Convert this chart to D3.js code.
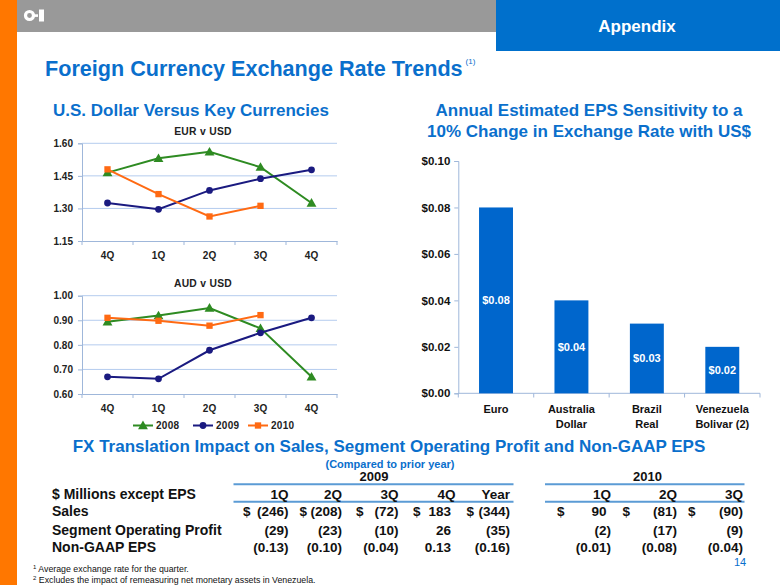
<!DOCTYPE html>
<html><head><meta charset="utf-8">
<script src="https://cdn.jsdelivr.net/npm/d3@7"></script>
<style>
html,body{margin:0;padding:0;background:#fff;}
svg{display:block;font-family:"Liberation Sans",Arial,Helvetica,sans-serif;}
</style></head>
<body>
<svg id="c" width="780" height="585"></svg>
<script>
// ---------- DATA ----------
const quarterLabels = ["4Q","1Q","2Q","3Q","4Q"];
const seriesNames = ["2008","2009","2010"];
const eur2008 = [1.465,1.531,1.561,1.490,1.325];
const eur2009 = [1.325,1.296,1.383,1.437,1.478];
const eur2010 = [1.480,1.366,1.263,1.312];
const eurTicks = [1.15,1.30,1.45,1.60];
const aud2008 = [0.894,0.919,0.950,0.867,0.670];
const aud2009 = [0.670,0.662,0.778,0.849,0.910];
const aud2010 = [0.910,0.898,0.878,0.921];
const audTicks = [0.60,0.70,0.80,0.90,1.00];

const currencies = [["Euro"],["Australia","Dollar"],["Brazil","Real"],["Venezuela","Bolivar (2)"]];
const epsSensitivity = [0.08,0.04,0.03,0.02];
const epsTicks = [0,0.02,0.04,0.06,0.08,0.10];

const rowLabels = ["Sales","Segment Operating Profit","Non-GAAP EPS"];
const cols2009 = ["1Q","2Q","3Q","4Q","Year"];
const sales2009 = [-246,-208,-72,183,-344];
const sop2009 = [-29,-23,-10,26,-35];
const eps2009 = [-0.13,-0.10,-0.04,0.13,-0.16];
const cols2010 = ["1Q","2Q","3Q"];
const sales2010 = [90,-81,-90];
const sop2010 = [-2,-17,-9];
const eps2010 = [-0.01,-0.08,-0.04];

// ---------- STYLE ----------
const BLUE = "#0A6FCC";
const GREEN = "#2E8B22", NAVY = "#1A1A80", ORANGE = "#FF6A13";
const GRID = "#B4CCEE", AXIS = "#9FB7DA";
const svg = d3.select("#c");

// ---------- HEADER ----------
svg.append("rect").attr("x",0).attr("y",0).attr("width",17).attr("height",585).attr("fill","#FF7700");
svg.append("rect").attr("x",17).attr("y",0).attr("width",479).attr("height",32).attr("fill","#999999");
svg.append("rect").attr("x",496).attr("y",0).attr("width",284).attr("height",51).attr("fill","#0070CC");
// logo
svg.append("circle").attr("cx",29.5).attr("cy",15.5).attr("r",4).attr("fill","none").attr("stroke","#fff").attr("stroke-width",3.2);
svg.append("rect").attr("x",34).attr("y",14.3).attr("width",4).attr("height",2.6).attr("fill","#fff");
svg.append("rect").attr("x",39).attr("y",9.5).attr("width",5).attr("height",12).attr("fill","#fff");
svg.append("text").attr("x",637).attr("y",32).attr("text-anchor","middle").attr("fill","#fff")
  .attr("font-size",17).attr("font-weight","bold").text("Appendix");

const mainTitle = svg.append("text").attr("x",45).attr("y",76).attr("fill",BLUE).attr("font-size",21.6).attr("font-weight","bold")
  .text("Foreign Currency Exchange Rate Trends");
const tw = mainTitle.node().getComputedTextLength();
svg.append("text").attr("x",45+tw+3).attr("y",64).attr("fill",BLUE).attr("font-size",8).text("(1)");

svg.append("text").attr("x",53).attr("y",116).attr("fill",BLUE).attr("font-size",17).attr("font-weight","bold")
  .text("U.S. Dollar Versus Key Currencies");
svg.append("text").attr("x",589).attr("y",116).attr("text-anchor","middle").attr("fill",BLUE).attr("font-size",17).attr("font-weight","bold")
  .text("Annual Estimated EPS Sensitivity to a");
svg.append("text").attr("x",589).attr("y",137).attr("text-anchor","middle").attr("fill",BLUE).attr("font-size",17).attr("font-weight","bold")
  .text("10% Change in Exchange Rate with US$");

// ---------- LINE CHARTS ----------
function lineChart(opt){
  const g = svg.append("g");
  const x = d3.scaleBand().domain(d3.range(quarterLabels.length)).range([82,337]);
  const y = d3.scaleLinear().domain(opt.domain).range(opt.range);
  g.append("g").selectAll("line").data(opt.ticks.slice(1)).join("line")
    .attr("x1",82).attr("x2",337).attr("y1",d=>y(d)).attr("y2",d=>y(d))
    .attr("stroke",GRID).attr("stroke-width",1);
  const ya = g.append("g").attr("transform","translate(82,0)")
    .call(d3.axisLeft(y).tickValues(opt.ticks).tickSize(4).tickPadding(5).tickFormat(d3.format(".2f")));
  ya.select(".domain").attr("stroke",AXIS);
  ya.selectAll(".tick line").attr("stroke",AXIS);
  ya.selectAll("text").attr("font-size",10).attr("font-weight","bold").attr("fill","#222").attr("font-family",null);
  const xa = g.append("g").attr("transform",`translate(0,${opt.range[0]})`)
    .call(d3.axisBottom(x).tickSize(0).tickPadding(11).tickFormat(i=>quarterLabels[i]));
  xa.select(".domain").attr("stroke",AXIS);
  xa.selectAll("text").attr("font-size",10).attr("font-weight","bold").attr("fill","#222").attr("font-family",null);
  g.append("g").selectAll("line").data(d3.range(quarterLabels.length+1)).join("line")
    .attr("x1",i=>82+i*x.step()).attr("x2",i=>82+i*x.step())
    .attr("y1",opt.range[0]).attr("y2",opt.range[0]+4).attr("stroke",AXIS);
  g.append("text").attr("x",203).attr("y",opt.titleY).attr("text-anchor","middle")
    .attr("font-size",10.3).attr("font-weight","bold").attr("letter-spacing",0.3).attr("fill","#222").text(opt.title);
  const cx = i=>x(i)+x.bandwidth()/2;
  const series = [
    {vals:opt.s2008,color:GREEN,shape:"tri"},
    {vals:opt.s2009,color:NAVY,shape:"circ"},
    {vals:opt.s2010,color:ORANGE,shape:"sq"}];
  series.forEach(s=>{
    g.append("path").datum(s.vals).attr("fill","none").attr("stroke",s.color).attr("stroke-width",2)
      .attr("d",d3.line().x((d,i)=>cx(i)).y(d=>y(d)));
    drawMarkers(g, s.vals.map((d,i)=>[cx(i),y(d)]), s.shape, s.color);
  });
}
function drawMarkers(g, pts, shape, color){
  const sym = shape==="tri"? d3.symbolTriangle : shape==="circ"? d3.symbolCircle : d3.symbolSquare;
  const size = shape==="tri"? 42 : shape==="circ"? 36 : 40;
  g.append("g").selectAll("path").data(pts).join("path")
    .attr("transform",d=>`translate(${d[0]},${d[1]+(shape==="tri"?0.8:0)})`)
    .attr("d",d3.symbol().type(sym).size(size)).attr("fill",color);
}
lineChart({title:"EUR v USD",titleY:134.5,domain:[1.15,1.60],range:[241,143.3],ticks:eurTicks,
  s2008:eur2008,s2009:eur2009,s2010:eur2010});
lineChart({title:"AUD v USD",titleY:287,domain:[0.60,1.00],range:[394,295.7],ticks:audTicks,
  s2008:aud2008,s2009:aud2009,s2010:aud2010});

const legColors = [GREEN,NAVY,ORANGE], legShapes=["tri","circ","sq"], legX=[133,193,248];
seriesNames.forEach((n,i)=>{
  const lg = svg.append("g");
  lg.append("line").attr("x1",legX[i]).attr("x2",legX[i]+20).attr("y1",425.5).attr("y2",425.5)
    .attr("stroke",legColors[i]).attr("stroke-width",2);
  drawMarkers(lg,[[legX[i]+10,425.5]],legShapes[i],legColors[i]);
  lg.append("text").attr("x",legX[i]+23).attr("y",429).attr("font-size",10).attr("font-weight","bold")
    .attr("letter-spacing",0.3).attr("fill","#222").text(n);
});

// ---------- BAR CHART ----------
{
  const g = svg.append("g");
  const x = d3.scaleBand().domain(d3.range(currencies.length)).range([458.3,760]).paddingInner(0.55).paddingOuter(0.275);
  const y = d3.scaleLinear().domain([0,0.10]).range([393.3,161]);
  const ya = g.append("g").attr("transform","translate(458.3,0)")
    .call(d3.axisLeft(y).tickValues(epsTicks).tickSize(4).tickPadding(4).tickFormat(d=>"$"+d3.format(".2f")(d)));
  ya.select(".domain").attr("stroke",AXIS);
  ya.selectAll(".tick line").attr("stroke",AXIS);
  ya.selectAll("text").attr("font-size",11.5).attr("font-weight","bold").attr("fill","#111").attr("font-family",null);
  g.append("line").attr("x1",458.3).attr("x2",760).attr("y1",393.3).attr("y2",393.3).attr("stroke",AXIS);
  const step = (760-458.3)/currencies.length;
  g.append("g").selectAll("line").data(d3.range(currencies.length+1)).join("line")
    .attr("x1",i=>458.3+i*step).attr("x2",i=>458.3+i*step).attr("y1",393.3).attr("y2",397.5).attr("stroke",AXIS);
  g.append("g").selectAll("rect").data(epsSensitivity).join("rect")
    .attr("x",(d,i)=>x(i)).attr("width",x.bandwidth()).attr("y",d=>y(d)).attr("height",d=>y(0)-y(d))
    .attr("fill","#0066CC");
  g.append("g").selectAll("text").data(epsSensitivity).join("text")
    .attr("x",(d,i)=>x(i)+x.bandwidth()/2).attr("y",d=>(y(d)+y(0))/2+4).attr("text-anchor","middle")
    .attr("font-size",11).attr("font-weight","bold").attr("fill","#fff").text(d=>"$"+d3.format(".2f")(d));
  currencies.forEach((lines,i)=>{
    lines.forEach((t,j)=>{
      g.append("text").attr("x",x(i)+x.bandwidth()/2).attr("y",413+j*14.5).attr("text-anchor","middle")
        .attr("font-size",11).attr("font-weight","bold").attr("fill","#111").text(t);
    });
  });
}

// ---------- TABLE ----------
svg.append("text").attr("x",389).attr("y",452).attr("text-anchor","middle").attr("fill",BLUE).attr("font-size",17).attr("font-weight","bold")
  .text("FX Translation Impact on Sales, Segment Operating Profit and Non-GAAP EPS");
svg.append("text").attr("x",390).attr("y",468).attr("text-anchor","middle").attr("fill",BLUE).attr("font-size",11).attr("font-weight","bold")
  .text("(Compared to prior year)");
{
  const g = svg.append("g").attr("font-weight","bold").attr("fill","#111");
  const fs = 13.5, paren = 4.5;
  const fmt = (v,isEps)=>{
    const a = isEps? d3.format(".2f")(Math.abs(v)) : String(Math.abs(v));
    return v<0? "("+a+")" : a;
  };
  const blocks = [
    {year:"2009",yearX:374,lineX:[233.5,513.5],cols:cols2009,right:[288.5,342,398.5,455.5,510],dollar:[243,299.5,356,413,466.5],
     rows:[sales2009,sop2009,eps2009]},
    {year:"2010",yearX:647.5,lineX:[545,744.5],cols:cols2010,right:[611,677,743],dollar:[557,622.5,688],
     rows:[sales2010,sop2010,eps2010]}
  ];
  const rowY = [516,534.5,552];
  blocks.forEach(b=>{
    g.append("text").attr("x",b.yearX).attr("y",481).attr("text-anchor","middle").attr("font-size",13).text(b.year);
    [484.3,501.7].forEach(ly=>g.append("line").attr("x1",b.lineX[0]).attr("x2",b.lineX[1]).attr("y1",ly).attr("y2",ly)
      .attr("stroke","#5B9BD5").attr("stroke-width",2));
    b.cols.forEach((c,i)=>g.append("text").attr("x",b.right[i]).attr("y",499).attr("text-anchor","end").attr("font-size",fs).text(c));
    b.rows.forEach((vals,r)=>{
      vals.forEach((v,i)=>{
        g.append("text").attr("x",b.right[i]-(v<0?0:paren)).attr("y",rowY[r]).attr("text-anchor","end")
          .attr("font-size",fs).text(fmt(v,r===2));
        if(r===0) g.append("text").attr("x",b.dollar[i]).attr("y",rowY[r]).attr("font-size",fs).text("$");
      });
    });
  });
  g.append("text").attr("x",52).attr("y",499).attr("font-size",14).text("$ Millions except EPS");
  rowLabels.forEach((t,r)=>g.append("text").attr("x",52).attr("y",rowY[r]).attr("font-size",14).text(t));
}
svg.append("text").attr("x",33).attr("y",572).attr("font-size",8.8).attr("fill","#111")
  .html('<tspan font-size="6" dy="-3">1</tspan><tspan dy="3"> Average exchange rate for the quarter.</tspan>');
svg.append("text").attr("x",33).attr("y",583).attr("font-size",8.8).attr("fill","#111")
  .html('<tspan font-size="6" dy="-3">2</tspan><tspan dy="3"> Excludes the impact of remeasuring net monetary assets in Venezuela.</tspan>');
svg.append("text").attr("x",740).attr("y",566).attr("text-anchor","middle").attr("font-size",11).attr("fill",BLUE).text("14");
</script>
</body></html>
